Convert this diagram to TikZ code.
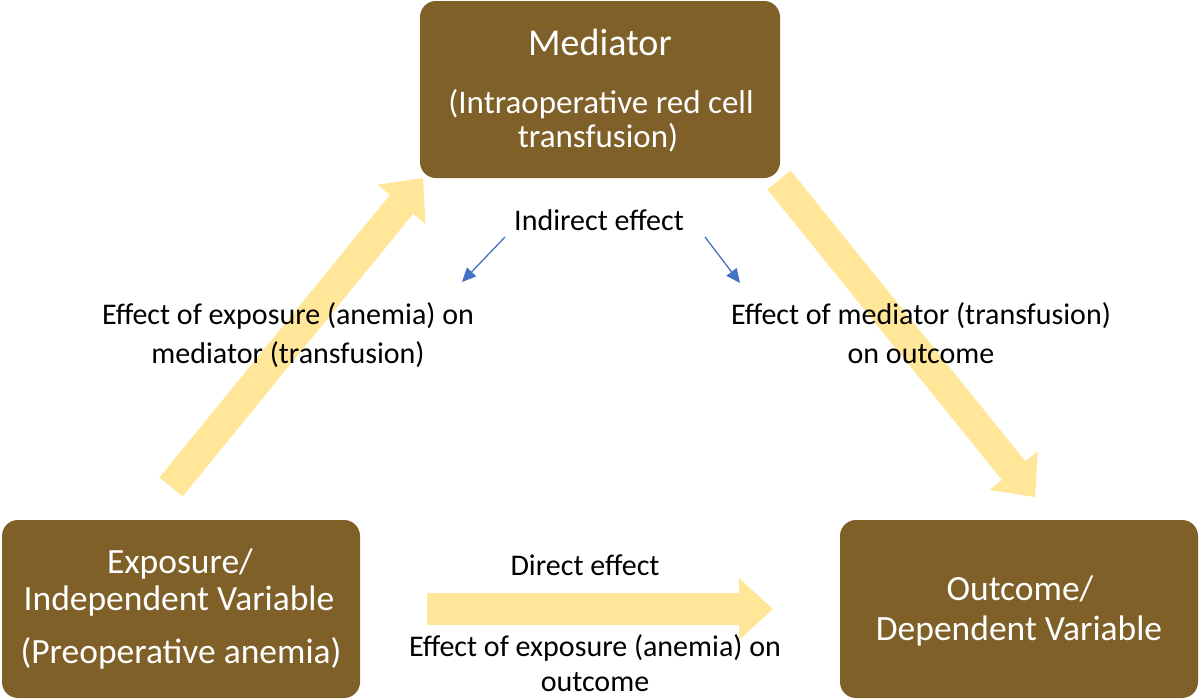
\documentclass[tikz,border=0pt]{standalone}
\usepackage{fontspec}
\setmainfont{Carlito}
\usetikzlibrary{arrows.meta}
\definecolor{boxbrown}{RGB}{127,96,40}
\definecolor{arrowyellow}{RGB}{255,230,153}
\definecolor{arrowblue}{RGB}{68,114,196}
\tikzset{
  varbox/.style={fill=boxbrown, draw=none, rounded corners=16pt, inner sep=0pt, outer sep=0pt},
  boxtext/.style={text=white, anchor=base, inner sep=0pt, font=\fontsize{35.5}{40}\selectfont},
  medtitle/.style={text=white, anchor=base, inner sep=0pt, font=\fontsize{38}{42}\selectfont},
  medsub/.style={text=white, anchor=base, inner sep=0pt, font=\fontsize{33}{38}\selectfont},
  lbl/.style={text=black, anchor=base, inner sep=0pt, font=\fontsize{30}{36}\selectfont},
  bigarrow/.style={draw=arrowyellow, line width=30pt, -{Triangle[length=34pt,width=62pt,line width=0pt]}},
  bluearrow/.style={draw=arrowblue, line width=1.3pt, -{Triangle[length=14pt,width=13pt,line width=0pt]}}
}
\begin{document}
\begin{tikzpicture}[x=1pt,y=-1pt]
\useasboundingbox (0,0) rectangle (1200,699);
% arrow end points
\coordinate (a1s) at (171,487);
\coordinate (a1e) at (423,178);
\coordinate (a2s) at (779,180);
\coordinate (a2e) at (1035,497);
\coordinate (a3s) at (427,609);
\coordinate (a3e) at (773,609);
\coordinate (b1s) at (505,237);
\coordinate (b1e) at (462,282);
\coordinate (b2s) at (705,237);
\coordinate (b2e) at (740,283);
% yellow arrows
\draw[bigarrow] (a1s) -- (a1e);
\draw[bigarrow] (a2s) -- (a2e);
\draw[bigarrow, line width=32pt] (a3s) -- (a3e);
% blue arrows
\draw[bluearrow] (b1s) -- (b1e);
\draw[bluearrow] (b2s) -- (b2e);
% boxes
\node[varbox, minimum width=360pt, minimum height=177pt] (med) at (600,89.5) {};
\node[varbox, minimum width=358pt, minimum height=178pt] (expo) at (181,609) {};
\node[varbox, minimum width=358pt, minimum height=178pt] (outc) at (1019,609) {};
% box texts
\node[medtitle] (medt1) at (600,55) {Mediator};
\node[medsub] (medt2) at (601,113) {(Intraoperative red cell};
\node[medsub] (medt3) at (598,147) {transfusion)};
\node[boxtext] (expt1) at (180,573) {Exposure/};
\node[boxtext] (expt2) at (179,610) {Independent Variable};
\node[boxtext] (expt3) at (181,663) {(Preoperative anemia)};
\node[boxtext] (outt1) at (1020,600) {Outcome/};
\node[boxtext] (outt2) at (1019,640) {Dependent Variable};
% labels
\node[lbl] (ind) at (599,230) {Indirect effect};
\node[lbl] (l1a) at (288,324) {Effect of exposure (anemia) on};
\node[lbl] (l1b) at (288,363) {mediator (transfusion)};
\node[lbl] (r1a) at (921,324) {Effect of mediator (transfusion)};
\node[lbl] (r1b) at (921,363) {on outcome};
\node[lbl] (dir) at (585,575) {Direct effect};
\node[lbl] (d1a) at (595,656) {Effect of exposure (anemia) on};
\node[lbl] (d1b) at (595,691) {outcome};
\end{tikzpicture}
\end{document}
